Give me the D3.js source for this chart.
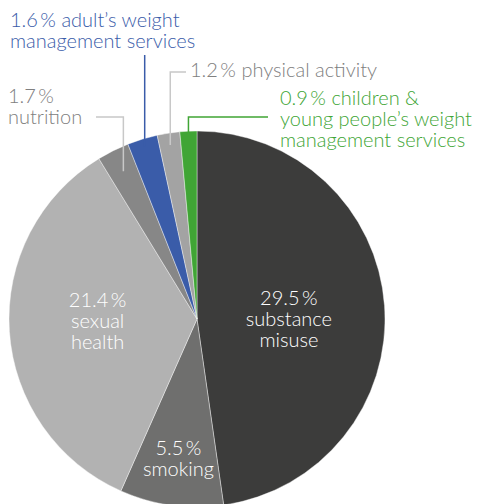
<!DOCTYPE html>
<html>
<head>
<meta charset="utf-8">
<script src="https://cdn.jsdelivr.net/npm/d3@7"></script>
<style>
    body { margin: 0; background: #fff; }
    svg text { font-family: Lato, "Open Sans", sans-serif; font-size: 20px; font-weight: 300; }
</style>
</head>
<body>
<div id="chart"></div>
<script>
// values, clockwise from 12 o'clock
var categories = ["substance misuse", "smoking", "sexual health", "nutrition",
    "adult's weight management services", "physical activity",
    "children & young people's weight management services"];
var values = [29.5, 5.5, 21.4, 1.7, 1.6, 1.2, 0.9];
var labelLines = [
    ["29.5\u2009%", "substance", "misuse"],
    ["5.5\u2009%", "smoking"],
    ["21.4\u2009%", "sexual", "health"],
    ["1.7\u2009%", "nutrition"],
    ["1.6\u2009% adult\u2019s weight", "management services"],
    ["1.2\u2009% physical activity"],
    ["0.9\u2009% children &", "young people\u2019s weight", "management services"]
];

var colors = ["#3c3c3b", "#6f6f6e", "#b2b2b2", "#878787", "#3a5ca9", "#a3a3a3", "#40a535"];
var textColors = ["#fff", "#fff", "#fff", "#808080", "#3a5ca9", "#808080", "#40a535"];
var leaderColors = [null, null, null, "#c8c8c8", "#3a5ca9", "#c8c8c8", "#40a535"];

var width = 478, height = 504;
var cx = 197, cy = 319, radius = 188;

var svg = d3.select("#chart")
    .append("svg")
    .attr("width", width)
    .attr("height", height);

var pie = d3.pie().sort(null).value(function (d) { return d; });
var arcs = pie(values);

var arc = d3.arc().innerRadius(0).outerRadius(radius);

var panel = svg.append("g")
    .attr("transform", "translate(" + cx + "," + cy + ")");

panel.selectAll("path.slice")
    .data(arcs)
    .enter().append("path")
    .attr("class", "slice")
    .attr("d", arc)
    .attr("fill", function (d, i) { return colors[i]; })
    .attr("stroke", "#fff")
    .attr("stroke-width", 0.4);

// inner labels: radius factor and vertical nudge for each slice label
var innerLabel = [{ r: 0.49, dy: 14 }, { r: 0.72, dy: 12 }, { r: 0.53, dy: 2 }];
var lineGap = 21;

arcs.slice(0, 3).forEach(function (d, i) {
    var r = radius * innerLabel[i].r;
    var a = (d.startAngle + d.endAngle) / 2;
    var x = r * Math.sin(a), y = -r * Math.cos(a);
    var lines = labelLines[i];
    var t = panel.append("text")
        .attr("text-anchor", "middle")
        .attr("fill", textColors[i]);
    lines.forEach(function (s, j) {
        t.append("tspan")
            .attr("x", x)
            .attr("y", y + (j - (lines.length - 1) / 2) * lineGap + innerLabel[i].dy)
            .text(s);
    });
});

// outer labels: text position and leader elbow (svg coords)
var outer = {
    3: { x: 8, y: 103, elbowX: 96, elbowY: 117, anchorR: 165 },
    4: { x: 10, y: 27, elbowX: null, elbowY: 55, anchorR: 180 },
    5: { x: 190, y: 77, elbowX: 186, elbowY: 72, anchorR: 176 },
    6: { x: 280, y: 105, elbowX: 268, elbowY: 117, anchorR: 187 }
};

Object.keys(outer).forEach(function (k) {
    var i = +k, o = outer[k], d = arcs[i];
    var a = (d.startAngle + d.endAngle) / 2;
    var ax = cx + o.anchorR * Math.sin(a);
    var ay = cy - o.anchorR * Math.cos(a);

    var pts = o.elbowX === null
        ? [[ax, o.elbowY], [ax, ay]]
        : [[o.elbowX, o.elbowY], [ax, o.elbowY], [ax, ay]];
    svg.append("path")
        .attr("d", d3.line()(pts))
        .attr("fill", "none")
        .attr("stroke", leaderColors[i])
        .attr("stroke-width", 1.5);

    var t = svg.append("text").attr("fill", textColors[i]);
    labelLines[i].forEach(function (s, j) {
        t.append("tspan")
            .attr("x", o.x)
            .attr("y", o.y + j * lineGap)
            .text(s);
    });
});
</script>
</body>
</html>
